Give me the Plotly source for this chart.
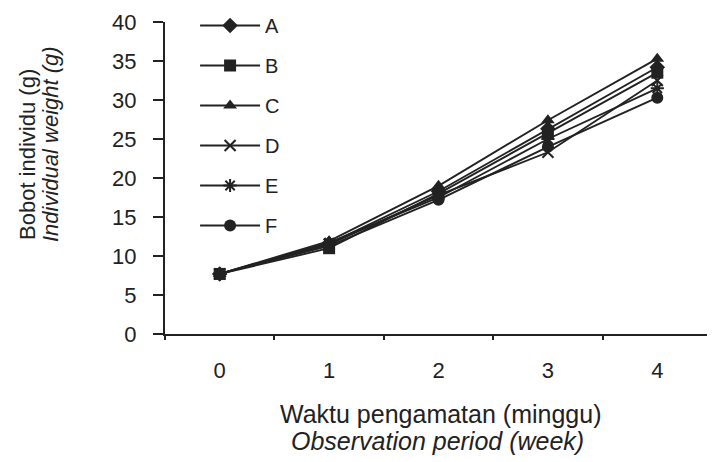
import plotly.graph_objects as go

weeks = ["0", "1", "2", "3", "4"]
series_names = ["A", "B", "C", "D", "E", "F"]
A = [7.7, 11.6, 18.3, 26.3, 34.2]
B = [7.7, 11.0, 18.0, 25.8, 33.5]
C = [7.7, 11.9, 19.0, 27.4, 35.3]
D = [7.7, 11.5, 17.8, 23.3, 32.5]
E = [7.7, 11.7, 17.5, 25.0, 31.5]
F = [7.7, 11.3, 17.2, 24.0, 30.3]
values = [A, B, C, D, E, F]
symbols = ["diamond", "square", "triangle-up", "x-thin", "asterisk", "circle"]
y_ticks = [0, 5, 10, 15, 20, 25, 30, 35, 40]

ink = "#222222"
font_family = "Liberation Sans, Arial, sans-serif"

fig = go.Figure()
for i, (name, vals, sym) in enumerate(zip(series_names, values, symbols)):
    fig.add_trace(go.Scatter(
        x=weeks, y=vals, name=name, mode="lines+markers", legendgroup=name,
        legend="legend" if i < 3 else "legend2",
        line=dict(color=ink, width=1.9),
        marker=dict(symbol=sym, size=12 if sym not in ("x-thin", "asterisk") else 11,
                    color=ink, line=dict(color=ink, width=2 if sym in ("x-thin", "asterisk") else 0)),
    ))

legend_common = dict(xanchor="left", yanchor="top", font=dict(size=20, color=ink),
                     tracegroupgap=11, itemwidth=60, traceorder="grouped",
                     bgcolor="rgba(0,0,0,0)")

fig.update_layout(
    width=707, height=454,
    margin=dict(l=157, r=3, t=14, b=128, autoexpand=False),
    paper_bgcolor="white", plot_bgcolor="white",
    font=dict(family=font_family, color=ink, size=20),
    showlegend=True,
    legend=dict(x=0.055, y=1.0513, **legend_common),
    legend2=dict(x=0.055, y=0.6667, **legend_common),
    xaxis=dict(type="category", tickson="boundaries", range=[-0.5, 4.5],
               showline=True, linecolor=ink, linewidth=2, ticks="outside",
               ticklen=4, tickwidth=2, tickcolor=ink, showgrid=False, zeroline=False,
               tickfont=dict(size=22, color=ink), ticklabelstandoff=16),
    yaxis=dict(range=[0, 40], tickvals=y_ticks, showline=True, linecolor=ink,
               linewidth=2, ticks="outside", ticklen=10, tickwidth=2, tickcolor=ink,
               showgrid=False, zeroline=False, tickfont=dict(size=22, color=ink),
               ticklabelstandoff=12),
    annotations=[
        dict(text="Bobot individu (g)", xref="paper", yref="paper", textangle=-90,
             x=-165/547 + 27/547, y=(334-155)/312, xanchor="center", yanchor="middle",
             showarrow=False, font=dict(size=22, color=ink)),
        dict(text="<i>Individual weight (g)</i>", xref="paper", yref="paper", textangle=-90,
             x=-165/547 + 50/547, y=(334-144)/312, xanchor="center", yanchor="middle",
             showarrow=False, font=dict(size=22, color=ink)),
        dict(text="Waktu pengamatan (minggu)", xref="paper", yref="paper",
             x=(440-165)/547, y=-(414-334)/312, xanchor="center", yanchor="middle",
             showarrow=False, font=dict(size=25, color=ink)),
        dict(text="<i>Observation period (week)</i>", xref="paper", yref="paper",
             x=(437-165)/547, y=-(441-334)/312, xanchor="center", yanchor="middle",
             showarrow=False, font=dict(size=25, color=ink)),
    ],
)

fig.write_html("out.html")
